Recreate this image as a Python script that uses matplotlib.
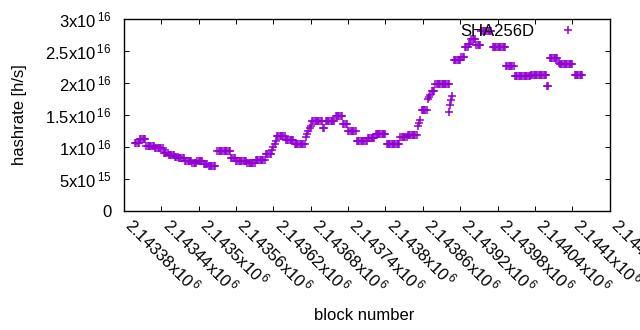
import matplotlib
matplotlib.use("Agg")
import matplotlib.pyplot as plt
import numpy as np

plt.rcParams['font.family'] = ['Liberation Sans', 'DejaVu Sans']
plt.rcParams['mathtext.default'] = 'regular'

first_block = 2143380
# block offsets from first_block (one line per run of points)
block_offsets = [
    18, 20, 22, 24,
    26, 28, 30, 32, 34,
    36, 38, 40, 42, 44, 46, 48,
    50, 52, 54, 56, 58, 60, 62,
    64, 66, 68, 70,
    72, 74, 76, 78, 80,
    82, 84, 86,
    88, 90, 92, 94, 96,
    98, 100, 102, 104, 106, 108,
    110, 112, 114, 116,
    118, 120, 122, 124, 126,
    128, 130, 132, 134,
    136, 138, 140, 142, 144, 146,
    150, 152, 154, 156, 158, 160, 162, 164, 166, 168, 170,
    172, 174, 176, 178,
    180, 182, 184, 186, 188, 190, 192, 194, 196,
    198, 200, 202, 204, 206, 208, 210,
    212, 214, 216, 218, 220, 222, 224, 226,
    228, 230, 232, 234, 236,
    238, 240, 242, 244,
    246, 248, 250, 252, 254, 256, 258,
    260, 262, 264, 266, 268, 270, 272,
    274, 276, 278, 280, 282, 284, 286, 288, 290,
    292, 294, 296, 298, 300,
    302, 304, 306, 308, 310, 312, 314, 316, 318,
    320, 322,
    324, 326, 328, 330, 332, 334, 336, 338,
    340, 342, 344, 346, 348, 350,
    352, 354, 356, 358,
    360, 362, 364, 366, 368, 370, 372,
    374, 376, 378, 380, 382, 384, 386, 388, 390,
    392, 394, 396, 398, 400, 402,
    404, 406, 408, 410, 412, 414, 416, 418, 420,
    422, 424, 426, 428, 430, 432, 434, 436, 438, 440, 442,
    444, 446, 448, 450, 452, 454,
    456, 458, 460, 462, 464, 466, 468, 470,
    472, 474, 476,
    478, 480, 482, 484, 486,
    488, 490, 492,
    494, 496, 498,
    500, 502, 504, 506, 508, 510, 512, 514, 516, 518, 520, 522,
    522, 523, 525, 527,
    530, 532, 534, 536, 538, 540,
    542, 544, 546,
    548, 550, 552,
    554, 556,
    558, 560, 562, 564,
    566, 568, 570, 572,
    574, 576, 578, 580, 582, 584, 586, 588, 590,
    592, 594, 596, 598, 600, 602, 604, 606, 608, 610, 612,
    614, 616, 618, 620, 622, 624, 626,
    628, 630, 632, 634, 636, 638, 640, 642, 644, 646, 648, 650, 652,
    654, 656, 658, 660, 662, 664, 666, 668, 670, 672, 674, 676, 678,
    679, 681,
    684, 686, 688, 690, 692, 694, 696,
    698,
    700, 702, 704, 706, 708, 710, 712, 714, 716, 718, 720,
    724, 726, 728, 730, 732, 734, 736,
]
# hashrate in units of 1e16 h/s, same layout as block_offsets
hashrate_e16 = [
    1.07, 1.07, 1.07, 1.07,
    1.12, 1.12, 1.12, 1.12, 1.12,
    1.02, 1.02, 1.02, 1.02, 1.02, 1.02, 1.02,
    0.99, 0.99, 0.99, 0.99, 0.99, 0.99, 0.99,
    0.91, 0.91, 0.91, 0.91,
    0.875, 0.875, 0.875, 0.875, 0.875,
    0.84, 0.84, 0.84,
    0.83, 0.83, 0.83, 0.83, 0.83,
    0.78, 0.78, 0.78, 0.78, 0.78, 0.78,
    0.75, 0.75, 0.75, 0.75,
    0.78, 0.78, 0.78, 0.78, 0.78,
    0.735, 0.735, 0.735, 0.735,
    0.70, 0.70, 0.70, 0.70, 0.70, 0.70,
    0.93, 0.93, 0.93, 0.93, 0.93, 0.93, 0.93, 0.93, 0.93, 0.93, 0.93,
    0.83, 0.83, 0.83, 0.83,
    0.78, 0.78, 0.78, 0.78, 0.78, 0.78, 0.78, 0.78, 0.78,
    0.75, 0.75, 0.75, 0.75, 0.75, 0.75, 0.75,
    0.80, 0.80, 0.80, 0.80, 0.80, 0.80, 0.80, 0.80,
    0.89, 0.89, 0.89, 0.89, 0.89,
    0.95, 1.00, 1.05, 1.10,
    1.17, 1.17, 1.17, 1.17, 1.17, 1.17, 1.17,
    1.11, 1.11, 1.11, 1.11, 1.11, 1.11, 1.11,
    1.05, 1.05, 1.05, 1.05, 1.05, 1.05, 1.05, 1.05, 1.05,
    1.15, 1.20, 1.25, 1.30, 1.33,
    1.41, 1.41, 1.41, 1.41, 1.41, 1.41, 1.41, 1.41, 1.41,
    1.30, 1.30,
    1.41, 1.41, 1.41, 1.41, 1.41, 1.41, 1.41, 1.41,
    1.48, 1.48, 1.48, 1.48, 1.48, 1.48,
    1.36, 1.36, 1.36, 1.36,
    1.25, 1.25, 1.25, 1.25, 1.25, 1.25, 1.25,
    1.09, 1.09, 1.09, 1.09, 1.09, 1.09, 1.09, 1.09, 1.09,
    1.14, 1.14, 1.14, 1.14, 1.14, 1.14,
    1.20, 1.20, 1.20, 1.20, 1.20, 1.20, 1.20, 1.20, 1.20,
    1.05, 1.05, 1.05, 1.05, 1.05, 1.05, 1.05, 1.05, 1.05, 1.05, 1.05,
    1.16, 1.16, 1.16, 1.16, 1.16, 1.16,
    1.19, 1.19, 1.19, 1.19, 1.19, 1.19, 1.19, 1.19,
    1.33, 1.375, 1.42,
    1.58, 1.58, 1.58, 1.58, 1.58,
    1.75, 1.78, 1.81,
    1.875, 1.875, 1.875,
    1.98, 1.98, 1.98, 1.98, 1.98, 1.98, 1.98, 1.98, 1.98, 1.98, 1.98, 1.98,
    1.55, 1.65, 1.74, 1.79,
    2.36, 2.36, 2.36, 2.36, 2.36, 2.36,
    2.41, 2.41, 2.41,
    2.56, 2.56, 2.56,
    2.61, 2.61,
    2.69, 2.69, 2.69, 2.69,
    2.60, 2.60, 2.60, 2.60,
    2.81, 2.81, 2.81, 2.81, 2.81, 2.81, 2.81, 2.81, 2.81,
    2.56, 2.56, 2.56, 2.56, 2.56, 2.56, 2.56, 2.56, 2.56, 2.56, 2.56,
    2.27, 2.27, 2.27, 2.27, 2.27, 2.27, 2.27,
    2.11, 2.11, 2.11, 2.11, 2.11, 2.11, 2.11, 2.11, 2.11, 2.11, 2.11, 2.11, 2.11,
    2.12, 2.12, 2.12, 2.12, 2.12, 2.12, 2.12, 2.12, 2.12, 2.12, 2.12, 2.12, 2.12,
    1.95, 1.95,
    2.39, 2.39, 2.39, 2.39, 2.39, 2.39, 2.39,
    2.32,
    2.30, 2.30, 2.30, 2.30, 2.30, 2.30, 2.30, 2.30, 2.30, 2.30, 2.30,
    2.125, 2.125, 2.125, 2.125, 2.125, 2.125, 2.125,
]

xticks = [2143380 + 60 * i for i in range(14)]
xticklabels = ['2.14338x10$^{\\,6}$', '2.14344x10$^{\\,6}$', '2.1435x10$^{\\,6}$', '2.14356x10$^{\\,6}$',
               '2.14362x10$^{\\,6}$', '2.14368x10$^{\\,6}$', '2.14374x10$^{\\,6}$', '2.1438x10$^{\\,6}$',
               '2.14386x10$^{\\,6}$', '2.14392x10$^{\\,6}$', '2.14398x10$^{\\,6}$', '2.14404x10$^{\\,6}$',
               '2.1441x10$^{\\,6}$', '2.14416x10$^{\\,6}$']
yticks = [0, 0.5e16, 1e16, 1.5e16, 2e16, 2.5e16, 3e16]
yticklabels = ['0', '5x10$^{\\,15}$', '1x10$^{\\,16}$', '1.5x10$^{\\,16}$', '2x10$^{\\,16}$',
               '2.5x10$^{\\,16}$', '3x10$^{\\,16}$']

blocks = first_block + np.array(block_offsets)
hashrate = np.array(hashrate_e16) * 1e16

fig = plt.figure(figsize=(6.4, 3.3), dpi=100)
ax = fig.add_axes([124 / 640, 119 / 330, 485.6 / 640, 192 / 330])

ax.plot(blocks, hashrate, linestyle='none', marker='+', markersize=6, mew=1.1,
        color='#9400D3', label='SHA256D')

ax.set_xlim(2143380, 2144160)
ax.set_ylim(0, 3e16)
ax.set_xticks(xticks)
ax.set_xticklabels(xticklabels, rotation=-45, ha='left', va='baseline', rotation_mode='anchor')
ax.set_yticks(yticks)
ax.set_yticklabels(yticklabels)
ax.tick_params(direction='in', length=3.5, width=0.7, labelsize=12, top=True, right=True)
ax.tick_params(axis='y', pad=9)
ax.tick_params(axis='x', pad=11)
for s in ax.spines.values():
    s.set_linewidth(1.0)

ax.set_ylabel('hashrate [h/s]', fontsize=12)
ax.yaxis.set_label_coords(-0.2, 0.5)
ax.set_xlabel('block number', fontsize=12)
ax.xaxis.set_label_coords(0.494, -0.505)

ax.legend(loc='upper right', bbox_to_anchor=(0.948, 0.974), markerfirst=False, frameon=False,
          borderaxespad=0, borderpad=0, handlelength=2, handletextpad=1.0, numpoints=1,
          fontsize=12)

fig.savefig('out.png', dpi=100)
